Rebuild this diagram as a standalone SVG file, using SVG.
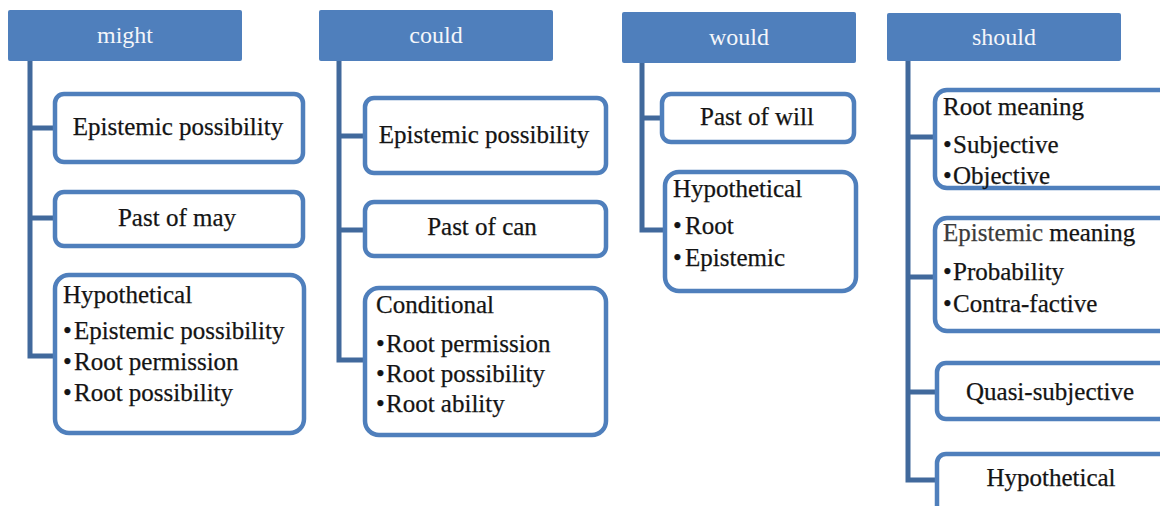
<svg xmlns="http://www.w3.org/2000/svg" width="1160" height="506" viewBox="0 0 1160 506">
<defs>
<style>
.hdr{fill:#4f7fbc;}
.hdrt{font-size:24px;fill:#f4f6fa;text-anchor:middle;}
.box{fill:#ffffff;stroke:#4f7fbc;stroke-width:4.5;}
.t{font-size:25px;fill:#141414;stroke:#141414;stroke-width:0.25;}
.c{text-anchor:middle;}
.conn{fill:none;stroke:#41699c;stroke-width:5;stroke-linejoin:miter;}
</style>
</defs>
<rect width="1160" height="506" fill="#ffffff"/>

<g id="connectors">
<path class="conn" d="M30 61 V356 H53 M30 128 H53 M30 218 H53"/>
<path class="conn" d="M339 61 V360 H363 M339 136 H363 M339 230 H363"/>
<path class="conn" d="M642 62 V230 H663 M642 118 H660"/>
<path class="conn" d="M908 61 V480 H937 M908 137 H933 M908 277 H933 M908 392 H935"/>
</g>

<g id="nodes" font-family="Liberation Serif, Times New Roman, serif">
<g id="might">
<rect class="hdr" x="8" y="10" width="234" height="51" rx="2"/>
<text class="hdrt" x="125" y="43">might</text>
</g>
<g id="might-epistemic">
<rect class="box" x="55" y="94" width="248" height="68" rx="9"/>
<text class="t c" x="178" y="135">Epistemic possibility</text>
</g>
<g id="might-past">
<rect class="box" x="55" y="192" width="248" height="54" rx="9"/>
<text class="t c" x="177" y="226">Past of may</text>
</g>
<g id="might-hypothetical">
<rect class="box" x="55" y="275" width="249" height="158" rx="14"/>
<text class="t" x="63" y="303">Hypothetical</text>
<text class="t" x="63" y="339">•<tspan x="74">Epistemic possibility</tspan></text>
<text class="t" x="63" y="370">•<tspan x="74">Root permission</tspan></text>
<text class="t" x="63" y="401">•<tspan x="74">Root possibility</tspan></text>
</g>

<g id="could">
<rect class="hdr" x="319" y="10" width="234" height="51" rx="2"/>
<text class="hdrt" x="436" y="43">could</text>
</g>
<g id="could-epistemic">
<rect class="box" x="365" y="98" width="241" height="75" rx="9"/>
<text class="t c" x="484" y="143">Epistemic possibility</text>
</g>
<g id="could-past">
<rect class="box" x="365" y="202" width="241" height="54" rx="9"/>
<text class="t c" x="482" y="235">Past of can</text>
</g>
<g id="could-conditional">
<rect class="box" x="365" y="288" width="241" height="147" rx="14"/>
<text class="t" x="376" y="313">Conditional</text>
<text class="t" x="376" y="352">•<tspan x="386">Root permission</tspan></text>
<text class="t" x="376" y="382">•<tspan x="386">Root possibility</tspan></text>
<text class="t" x="376" y="412">•<tspan x="386">Root ability</tspan></text>
</g>

<g id="would">
<rect class="hdr" x="622" y="12" width="234" height="51" rx="2"/>
<text class="hdrt" x="739" y="45">would</text>
</g>
<g id="would-past">
<rect class="box" x="662" y="94" width="192" height="48" rx="9"/>
<text class="t c" x="757" y="125">Past of will</text>
</g>
<g id="would-hypothetical">
<rect class="box" x="665" y="172" width="191" height="119" rx="14"/>
<text class="t" x="673" y="197">Hypothetical</text>
<text class="t" x="673" y="234">•<tspan x="685">Root</tspan></text>
<text class="t" x="673" y="266">•<tspan x="685">Epistemic</tspan></text>
</g>

<g id="should">
<rect class="hdr" x="887" y="13" width="234" height="48" rx="2"/>
<text class="hdrt" x="1004" y="45">should</text>
</g>
<g id="should-root">
<rect class="box" x="935" y="90" width="240" height="98" rx="12"/>
<text class="t" x="943" y="115">Root meaning</text>
<text class="t" x="943" y="153">•<tspan x="953">Subjective</tspan></text>
<text class="t" x="943" y="184">•<tspan x="953">Objective</tspan></text>
</g>
<g id="should-epistemic">
<rect class="box" x="935" y="218" width="240" height="113" rx="12"/>
<text class="t" x="943" y="241"><tspan fill="#3b3b3b" stroke="#3b3b3b">Epistemic</tspan> meaning</text>
<text class="t" x="943" y="280">•<tspan x="953">Probability</tspan></text>
<text class="t" x="943" y="312">•<tspan x="953">Contra-factive</tspan></text>
</g>
<g id="should-quasi">
<rect class="box" x="937" y="363" width="240" height="56" rx="9"/>
<text class="t c" x="1050" y="400">Quasi-subjective</text>
</g>
<g id="should-hypothetical">
<rect class="box" x="937" y="454" width="240" height="70" rx="9"/>
<text class="t c" x="1051" y="486">Hypothetical</text>
</g>
</g>
</svg>
